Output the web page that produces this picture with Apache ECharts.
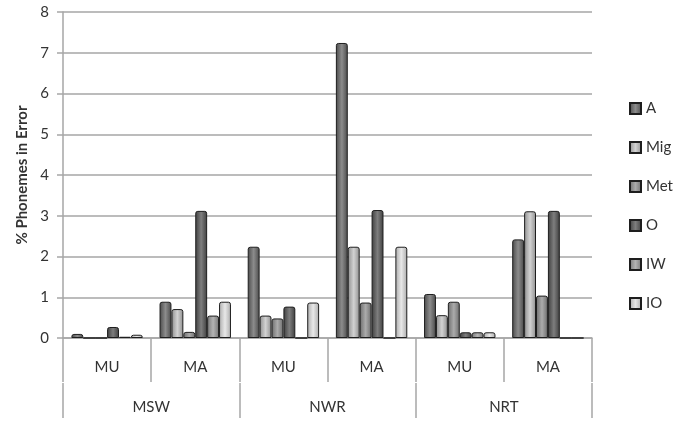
<!DOCTYPE html>
<html><head><meta charset="utf-8">
<script src="https://cdn.jsdelivr.net/npm/echarts@6/dist/echarts.min.js"></script>
<style>html,body{margin:0;padding:0;background:#fff}#c{width:689px;height:426px}</style>
</head><body><div id="c"></div>
<script>
const subCategories = ['MU','MA','MU','MA','MU','MA'];
const groupCategories = ['MSW','NWR','NRT'];
const seriesNames = ['A','Mig','Met','O','IW','IO'];
const valA   = [0.10, 0.89, 2.24, 7.24, 1.08, 2.42];
const valMig = [0.00, 0.71, 0.55, 2.24, 0.56, 3.11];
const valMet = [0.00, 0.15, 0.48, 0.87, 0.89, 1.04];
const valO   = [0.27, 3.12, 0.77, 3.14, 0.14, 3.12];
const valIW  = [0.03, 0.55, 0.00, 0.00, 0.14, 0.00];
const valIO  = [0.08, 0.89, 0.87, 2.24, 0.14, 0.00];
const yTicks = [0,1,2,3,4,5,6,7,8];

const values = [valA, valMig, valMet, valO, valIW, valIO];
const shades = [
  ['#4a4a4a','#8c8c8c'],
  ['#8e8e8e','#d2d2d2'],
  ['#6c6c6c','#ababab'],
  ['#3e3e3e','#7e7e7e'],
  ['#767676','#b4b4b4'],
  ['#ababab','#e8e8e8']
];
function grad(s){
  return new echarts.graphic.LinearGradient(0,0,1,0,[
    {offset:0,color:s[0]},{offset:0.5,color:s[1]},{offset:1,color:s[0]}]);
}
const font = 'Lato, "Open Sans", sans-serif';
const chart = echarts.init(document.getElementById('c'), null, {renderer:'canvas'});
chart.setOption({
  animation:false,
  backgroundColor:'#fff',
  textStyle:{fontFamily:font},
  grid:{left:63, right:97, top:12, bottom:88, containLabel:false},
  legend:{
    orient:'vertical', left:624, top:96, itemWidth:11, itemHeight:11, itemGap:24,
    icon:'rect',
    textStyle:{fontSize:15, color:'#333', fontFamily:font},
    data:seriesNames
  },
  xAxis:[{
    type:'category', data:subCategories, position:'bottom',
    axisLine:{show:true, lineStyle:{color:'#a6a6a6', width:1.5}},
    axisTick:{show:true, interval:0, length:44, lineStyle:{color:'#a6a6a6', width:1.5}},
    axisLabel:{interval:0, margin:22, fontSize:15, color:'#333', fontFamily:font},
    splitLine:{show:false}
  },{
    type:'category', data:groupCategories, position:'bottom', offset:45,
    axisLine:{show:false},
    axisTick:{show:true, interval:0, length:35, lineStyle:{color:'#a6a6a6', width:1.5}},
    axisLabel:{interval:0, margin:17, fontSize:15, color:'#333', fontFamily:font},
    splitLine:{show:false}
  }],
  yAxis:{
    type:'value', min:yTicks[0], max:yTicks[yTicks.length-1], interval:1,
    name:'% Phonemes in Error', nameLocation:'middle', nameGap:33,
    nameTextStyle:{fontSize:15, fontWeight:'bold', color:'#333', fontFamily:font},
    axisLine:{show:true, lineStyle:{color:'#a6a6a6', width:1.5}},
    axisTick:{show:true, length:6, lineStyle:{color:'#a6a6a6', width:1.5}},
    axisLabel:{margin:14, fontSize:15, color:'#333', fontFamily:font},
    splitLine:{show:true, lineStyle:{color:'#a6a6a6', width:1.5}}
  },
  series: seriesNames.map((n,i)=>({
    name:n, type:'bar', xAxisIndex:0, data:values[i],
    barGap:'0%', barCategoryGap:'19%',
    itemStyle:{color:grad(shades[i]), borderColor:'#1e1e1e', borderWidth:1, borderRadius:[2,2,0,0]}
  }))
});
</script></body></html>
